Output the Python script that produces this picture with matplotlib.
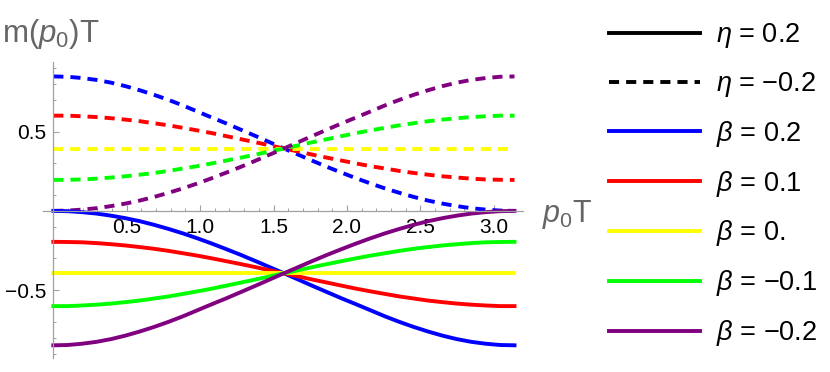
import numpy as np
import matplotlib
matplotlib.use("Agg")
import matplotlib.pyplot as plt
from matplotlib.lines import Line2D

plt.rcParams['font.family'] = ['Liberation Sans', 'DejaVu Sans']
plt.rcParams['mathtext.fontset'] = 'custom'
plt.rcParams['mathtext.rm'] = 'Liberation Sans'
plt.rcParams['mathtext.it'] = 'Liberation Sans:italic'

# sample positions along p0 T (0 .. pi, 33 points)
p0 = np.linspace(0, np.pi, 33)

beta_labels = ["0.2", "0.1", "0.", "\u22120.1", "\u22120.2"]
colors = ["#0000ff", "#ff0000", "#ffff00", "#00ff00", "#800080"]

# eta = -0.2 (dashed, positive branch)
dash_b02 = [0.847, 0.845, 0.837, 0.825, 0.808, 0.786, 0.760, 0.731, 0.699, 0.664, 0.626,
            0.588, 0.551, 0.512, 0.473, 0.433, 0.393, 0.354, 0.315, 0.277, 0.241, 0.206,
            0.173, 0.142, 0.114, 0.088, 0.065, 0.046, 0.030, 0.017, 0.008, 0.002, 0.000]
dash_b01 = [0.600, 0.600, 0.596, 0.591, 0.584, 0.575, 0.565, 0.552, 0.539, 0.523, 0.507,
            0.490, 0.471, 0.452, 0.433, 0.413, 0.393, 0.374, 0.354, 0.335, 0.317, 0.299,
            0.282, 0.267, 0.252, 0.239, 0.228, 0.218, 0.210, 0.203, 0.198, 0.196, 0.195]
dash_b00 = [0.393] * 33
dash_bm01 = [0.195, 0.196, 0.198, 0.203, 0.210, 0.218, 0.228, 0.239, 0.252, 0.267, 0.282,
             0.299, 0.317, 0.335, 0.354, 0.374, 0.393, 0.413, 0.433, 0.452, 0.471, 0.490,
             0.507, 0.523, 0.539, 0.552, 0.565, 0.575, 0.584, 0.591, 0.596, 0.600, 0.600]
dash_bm02 = [0.000, 0.002, 0.008, 0.017, 0.030, 0.046, 0.065, 0.088, 0.114, 0.142, 0.173,
             0.206, 0.241, 0.277, 0.315, 0.354, 0.393, 0.433, 0.473, 0.512, 0.551, 0.588,
             0.626, 0.664, 0.699, 0.731, 0.760, 0.786, 0.808, 0.825, 0.837, 0.845, 0.847]

# eta = 0.2 (solid, negative branch)
solid_b02 = [-0.000, -0.002, -0.008, -0.017, -0.030, -0.046, -0.065, -0.088, -0.114, -0.142, -0.173,
             -0.206, -0.241, -0.277, -0.315, -0.354, -0.393, -0.433, -0.473, -0.512, -0.551, -0.588,
             -0.626, -0.664, -0.699, -0.731, -0.760, -0.786, -0.808, -0.825, -0.837, -0.845, -0.847]
solid_b01 = [-0.195, -0.196, -0.198, -0.203, -0.210, -0.218, -0.228, -0.239, -0.252, -0.267, -0.282,
             -0.299, -0.317, -0.335, -0.354, -0.374, -0.393, -0.413, -0.433, -0.452, -0.471, -0.490,
             -0.507, -0.523, -0.539, -0.552, -0.565, -0.575, -0.584, -0.591, -0.596, -0.600, -0.600]
solid_b00 = [-0.393] * 33
solid_bm01 = [-0.600, -0.600, -0.596, -0.591, -0.584, -0.575, -0.565, -0.552, -0.539, -0.523, -0.507,
              -0.490, -0.471, -0.452, -0.433, -0.413, -0.393, -0.374, -0.354, -0.335, -0.317, -0.299,
              -0.282, -0.267, -0.252, -0.239, -0.228, -0.218, -0.210, -0.203, -0.198, -0.196, -0.195]
solid_bm02 = [-0.847, -0.845, -0.837, -0.825, -0.808, -0.786, -0.760, -0.731, -0.699, -0.664, -0.626,
              -0.588, -0.551, -0.512, -0.473, -0.433, -0.393, -0.354, -0.315, -0.277, -0.241, -0.206,
              -0.173, -0.142, -0.114, -0.088, -0.065, -0.046, -0.030, -0.017, -0.008, -0.002, -0.000]

dashed_series = [dash_b02, dash_b01, dash_b00, dash_bm01, dash_bm02]
solid_series = [solid_b02, solid_b01, solid_b00, solid_bm01, solid_bm02]

xticks = [0.5, 1.0, 1.5, 2.0, 2.5, 3.0]
yticks = [-0.5, 0.5]

fig = plt.figure(figsize=(8.3, 3.72), dpi=100)
ax = fig.add_axes([0.0522, 0.0376, 0.578, 0.797])

lw = 2.8
dash_pat = (2.6, 1.8)
for ys, c in zip(dashed_series, colors):
    ax.plot(p0, ys, color=c, lw=lw, linestyle=(0, dash_pat),
            dash_capstyle='butt', clip_on=False)
for ys, c in zip(solid_series, colors):
    ax.plot(p0, ys, color=c, lw=lw, clip_on=False)

ax.set_xlim(-0.068, 3.20)
ax.set_ylim(-0.927, 0.941)

for s in ['top', 'right']:
    ax.spines[s].set_visible(False)
ax.spines['left'].set_position(('data', 0))
ax.spines['bottom'].set_position(('data', 0))
for s in ['left', 'bottom']:
    ax.spines[s].set_color('#a0a0a0')
    ax.spines[s].set_linewidth(0.9)

ax.set_xticks(xticks)
ax.set_xticklabels([f"{t:.1f}" for t in xticks])
ax.set_yticks(yticks)
ax.set_yticklabels(["\u22120.5", "0.5"])
ax.set_xticks(np.arange(0.1, 3.15, 0.1), minor=True)
ax.set_yticks(np.concatenate([np.arange(-0.9, 0.0, 0.1), np.arange(0.1, 0.95, 0.1)]), minor=True)
ax.tick_params(which='major', direction='in', length=4.0, width=0.8, color='#a0a0a0',
               labelsize=15, labelcolor='black', pad=5)
ax.tick_params(which='minor', direction='in', length=2.3, width=0.7, color='#a0a0a0')

fig.text(0.003, 0.887, r"m($p_0$)T", fontsize=22.5, color='#666666', ha='left', va='baseline')
fig.text(0.653, 0.403, r"$p_0$T", fontsize=22, color='#666666', ha='left', va='baseline')

handles = [Line2D([], [], color='black', lw=lw),
           Line2D([], [], color='black', lw=lw, linestyle=(0, dash_pat), dash_capstyle='butt')]
labels = [r"$\eta$ = 0.2", r"$\eta$ = " + "\u22120.2"]
for c, bl in zip(colors, beta_labels):
    handles.append(Line2D([], [], color=c, lw=lw))
    labels.append(r"$\beta$ = " + bl)

fig.legend(handles, labels, loc='upper left', bbox_to_anchor=(0.734, 0.9425),
           frameon=False, fontsize=19.5, handlelength=3.36, handletextpad=0.59,
           labelspacing=0.73, borderpad=0, borderaxespad=0)

fig.savefig("out.png", dpi=100)
